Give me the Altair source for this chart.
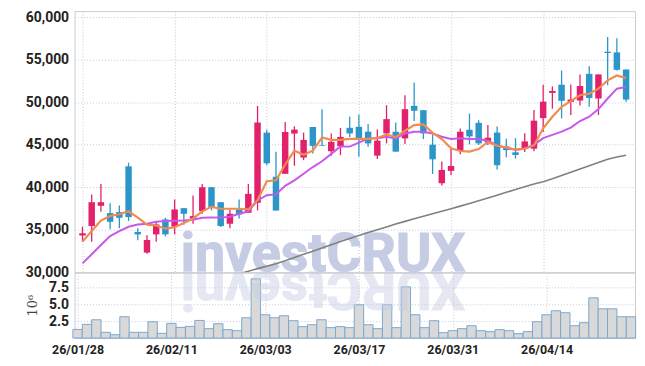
import altair as alt
import pandas as pd

# ---- data ----
dates = ["26/01/28", "26/01/29", "26/01/30", "26/02/02", "26/02/03", "26/02/04", "26/02/05", "26/02/06", "26/02/09", "26/02/10",
         "26/02/11", "26/02/12", "26/02/13", "26/02/19", "26/02/20", "26/02/23", "26/02/24", "26/02/25", "26/02/26", "26/02/27",
         "26/03/03", "26/03/04", "26/03/05", "26/03/06", "26/03/09", "26/03/10", "26/03/11", "26/03/12", "26/03/13", "26/03/16",
         "26/03/17", "26/03/18", "26/03/19", "26/03/20", "26/03/23", "26/03/24", "26/03/25", "26/03/26", "26/03/27", "26/03/30",
         "26/03/31", "26/04/01", "26/04/02", "26/04/03", "26/04/06", "26/04/07", "26/04/08", "26/04/09", "26/04/10", "26/04/13",
         "26/04/14", "26/04/15", "26/04/16", "26/04/17", "26/04/20", "26/04/21", "26/04/22", "26/04/23", "26/04/24", "26/04/27"]

opens = [34350, 35450, 37830, 36970, 37090, 42460, 34750, 32330, 34470, 36230,
         35370, 37550, 36310, 37200, 40010, 38250, 35720, 37400, 37010, 38180,
         46420, 41240, 41590, 46310, 43500, 47090, 44950, 44240, 44830, 46990,
         47110, 46530, 43720, 46330, 46530, 45750, 49570, 49060, 45010, 40480,
         41930, 44270, 46760, 47580, 45280, 46430, 44810, 44110, 44540, 44540,
         48130, 51090, 52050, 50040, 50190, 53330, 50430, 55930, 55850, 53840]
highs = [35370, 39150, 40400, 38140, 37870, 42890, 35180, 34360, 36030, 36420,
         38570, 37550, 39030, 40400, 40010, 38250, 37400, 38570, 40400, 49560,
         46750, 44170, 47670, 47170, 46430, 47090, 49160, 46310, 46970, 48330,
         48560, 47430, 46800, 49650, 47620, 50820, 52300, 49060, 46220, 43020,
         44500, 46920, 48670, 47890, 47310, 47130, 45700, 45780, 46360, 49070,
         52050, 51860, 53720, 52090, 53260, 54230, 53260, 57670, 57520, 53840]
lows = [33620, 33620, 37120, 35060, 35180, 36030, 33770, 32210, 33620, 34240,
        34470, 35600, 35720, 36890, 37280, 35330, 35180, 36350, 37000, 37280,
        42600, 37270, 41590, 42530, 43190, 43970, 44870, 43700, 43780, 45900,
        43600, 44770, 43330, 45160, 44190, 45090, 47780, 45670, 41580, 40210,
        41460, 43880, 45050, 44970, 44970, 42090, 43530, 43370, 44150, 44230,
        46490, 49230, 48100, 48490, 49610, 49460, 48490, 51980, 53720, 50040]
closes = [34600, 38250, 38250, 35950, 36420, 36500, 34470, 33810, 35640, 34470,
          37400, 36890, 36620, 40010, 37590, 35450, 36890, 36810, 39230, 47610,
          42820, 37270, 46500, 46780, 45570, 44870, 44870, 45340, 45920, 46330,
          45750, 45160, 45480, 48010, 44190, 49180, 48990, 46330, 43290, 42040,
          42510, 46530, 45980, 45160, 45830, 42600, 44380, 43800, 45390, 47830,
          50060, 51320, 50160, 50310, 51900, 50500, 53260, 55780, 53800, 50310]

# volume in millions of shares
volumes = [1.29, 2.04, 2.73, 0.85, 0.50, 3.18, 0.85, 0.85, 2.44, 0.70,
           2.19, 1.59, 1.74, 2.63, 1.40, 2.14, 1.25, 1.10, 3.03, 8.84,
           3.48, 3.03, 3.33, 2.59, 1.70, 1.99, 2.73, 1.55, 1.70, 1.55,
           4.97, 1.99, 1.40, 4.97, 1.55, 7.65, 3.48, 1.55, 2.59, 0.80,
           1.10, 1.40, 1.84, 1.10, 0.95, 1.25, 1.10, 0.65, 0.95, 2.44,
           3.48, 4.08, 3.78, 1.84, 2.29, 6.01, 4.37, 4.37, 3.18, 3.18]

ma_short = [33620, 34860, 36100, 36630, 36830, 37180, 36430, 35620, 35520, 35140,
            35310, 35800, 36340, 37180, 37710, 37480, 37480, 37480, 37400, 38490,
            40710, 40830, 42660, 44300, 43830, 44300, 45850, 45580, 45580, 45700,
            45700, 45700, 45800, 46200, 45900, 46650, 47300, 47400, 46400, 45670,
            44580, 44270, 44190, 44500, 45330, 44880, 44690, 44420, 44540, 44920,
            46940, 48290, 49460, 50120, 50810, 51010, 51590, 52560, 53140, 52830]

ma_mid = [31070, 32140, 33230, 34280, 34860, 35370, 35620, 35720, 35960, 36030,
          36080, 36110, 36190, 36420, 36460, 36440, 36540, 36890, 37180, 38450,
          39070, 39170, 40180, 40820, 41600, 42380, 43060, 43930, 44800, 44780,
          45250, 45750, 45750, 45940, 45750, 46330, 46530, 46530, 46330, 45940,
          45670, 45750, 45670, 45670, 45480, 44920, 44610, 44420, 44540, 45000,
          45780, 46160, 46550, 47020, 47790, 48290, 49190, 50430, 51590, 51780]

ma_long_start = 17
ma_long = [29850, 30150, 30450, 30720, 31020, 31380, 31750, 32130, 32500, 32880,
           33260, 33640, 34000, 34340, 34680, 35020, 35350, 35680, 36000, 36300,
           36600, 36890, 37180, 37480, 37790, 38110, 38430, 38750, 39080, 39410,
           39740, 40070, 40400, 40650, 41000, 41380, 41760, 42150, 42530, 42920,
           43300, 43570, 43760]

tick_idx = [0, 10, 20, 30, 40, 50]
tick_labels = [dates[i] for i in tick_idx]

# ---- styling ----
RED = "#e3206b"
BLUE = "#2c96c9"
GRID = "#c6c8dc"
FONT = "Roboto"
W = 564
H_PRICE = 263
H_VOL = 66

n = len(dates)
df = pd.DataFrame({
    "idx": list(range(n)), "date": dates, "open": opens, "high": highs,
    "low": lows, "close": closes, "vol": volumes,
})
df["dir"] = ["up" if c >= o else "down" for o, c in zip(opens, closes)]

ma_df = pd.DataFrame({"idx": list(range(n)), "short": ma_short, "mid": ma_mid})
long_df = pd.DataFrame({"idx": list(range(ma_long_start, ma_long_start + len(ma_long))), "long": ma_long})

xscale = alt.Scale(domain=[-0.32, 59.43], nice=False, zero=False)
label_expr = "[" + ",".join("'%s'" % t for t in tick_labels) + "][round(datum.value / 10)]"

x_top = alt.X("idx:Q", scale=xscale,
              axis=alt.Axis(values=tick_idx, labels=False, ticks=False, domain=False,
                            grid=True, gridDash=[1, 2], gridColor=GRID, title=None))
x_bot_axis = alt.Axis(values=tick_idx, labelExpr=label_expr, ticks=False, domain=False,
                      grid=True, gridDash=[1, 2], gridColor=GRID, title=None,
                      labelFont=FONT, labelFontSize=12.5, labelFontWeight="bold",
                      labelColor="#222222", labelPadding=6)

yprice = alt.Scale(domain=[30000, 60700], nice=False, zero=False)
y_axis = alt.Axis(values=[30000, 35000, 40000, 45000, 50000, 55000, 60000], format=",d",
                  ticks=False, domain=False, grid=True, gridDash=[1, 2], gridColor=GRID,
                  labelFont=FONT, labelFontSize=14, labelFontWeight="bold", labelColor="#222222",
                  labelPadding=6, labelOverlap=False, title=None, minExtent=46, maxExtent=46)

dir_color = alt.Color("dir:N", scale=alt.Scale(domain=["up", "down"], range=[RED, BLUE]), legend=None)

base = alt.Chart(df)

watermark = alt.Chart(pd.DataFrame({"t": ["investCRUX"]})).mark_text(
    font="Roboto", fontSize=54, fontWeight="bold", color="#c6cce3",
    stroke="#c6cce3", strokeWidth=1.2,
    align="center", baseline="alphabetic"
).encode(text="t:N", x=alt.value(250), y=alt.value(262))

wicks = base.mark_rule(strokeWidth=1.3).encode(
    x=x_top, y=alt.Y("low:Q", scale=yprice, axis=y_axis), y2="high:Q", color=dir_color)
bodies = base.mark_bar(width=6.5).encode(
    x="idx:Q", y="open:Q", y2="close:Q", color=dir_color)

long_line = alt.Chart(long_df).mark_line(color="#808080", strokeWidth=1.6, clip=True).encode(
    x="idx:Q", y="long:Q")
mid_line = alt.Chart(ma_df).mark_line(color="#c858ea", strokeWidth=2, clip=True).encode(
    x="idx:Q", y="mid:Q")
short_line = alt.Chart(ma_df).mark_line(color="#f08c50", strokeWidth=2.2, clip=True).encode(
    x="idx:Q", y="short:Q")

top = alt.layer(watermark, wicks, bodies, long_line, mid_line, short_line).properties(
    width=W, height=H_PRICE)

vol_axis = alt.Axis(values=[2.5, 5, 7.5], format=".1f", ticks=False, domain=False, grid=True,
                    gridDash=[1, 2], gridColor=GRID, labelFont=FONT, labelFontSize=14,
                    labelFontWeight="bold", labelOverlap=False,
                    labelColor="#222222", labelPadding=6, title="10⁶",
                    titleFont="DejaVu Serif", titleFontSize=13, titleFontWeight="normal",
                    titleColor="#444444", titlePadding=11, minExtent=24, maxExtent=24)

vol_bars = base.transform_calculate(
    x0="datum.idx - 0.5", x1="datum.idx + 0.5"
).mark_bar(fill="#d9d9d9", stroke="#7ba8cf", strokeWidth=1).encode(
    x=alt.X("x0:Q", scale=xscale, axis=x_bot_axis), x2="x1:Q",
    y=alt.Y("vol:Q", scale=alt.Scale(domain=[0, 9.8], nice=False), axis=vol_axis),
    y2=alt.datum(0))

reflection = alt.Chart(pd.DataFrame({"t": ["XURCtsevni"]})).mark_text(
    font="Roboto", fontSize=54, fontWeight="bold", color="#c6cce3", opacity=0.45,
    stroke="#c6cce3", strokeWidth=1.2,
    align="center", baseline="alphabetic", angle=180
).encode(text="t:N", x=alt.value(250), y=alt.value(0))

bottom = alt.layer(vol_bars, reflection).properties(width=W, height=H_VOL)

chart = alt.vconcat(top, bottom, spacing=0, bounds="flush").properties(
    padding={"left": 16, "top": 0, "right": 0, "bottom": 4}
).configure_view(stroke="#cccccc", strokeWidth=1)

chart.save("out.html", embed_options={"renderer": "svg", "actions": False})
